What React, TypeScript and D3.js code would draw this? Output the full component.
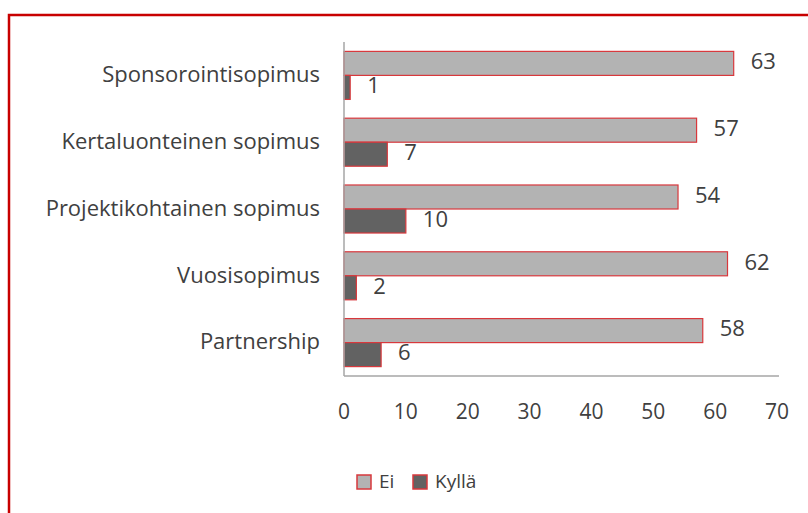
import * as d3 from 'd3'

// Categories top to bottom
const categories = [
  'Sponsorointisopimus',
  'Kertaluonteinen sopimus',
  'Projektikohtainen sopimus',
  'Vuosisopimus',
  'Partnership',
]
const series = ['Ei', 'Kyllä']
const eiValues = [63, 57, 54, 62, 58]
const kyllaValues = [1, 7, 10, 2, 6]
const xTicks = [0, 10, 20, 30, 40, 50, 60, 70]

const WIDTH = 808
const HEIGHT = 513
const FONT = "'Open Sans', 'Liberation Sans', sans-serif"
const TEXT = '#404040'
const FILLS: Record<string, string> = { Ei: '#b3b3b3', 'Kyllä': '#626262' }
const BAR_STROKE = '#d8383c'

function App() {
  const x = d3.scaleLinear().domain([0, 70]).range([344, 777])
  const y = d3.scaleBand<string>()
    .domain(categories)
    .range([42, 376])
    .paddingInner(0.281)
    .paddingOuter(0.1405)
  const inner = d3.scaleBand<string>()
    .domain(series)
    .range([0, y.bandwidth()])

  const rows = categories.map((c, i) => ({
    category: c,
    values: [
      { key: 'Ei', value: eiValues[i] },
      { key: 'Kyllä', value: kyllaValues[i] },
    ],
  }))

  const step = y.step()
  const baseY = 376

  return (
    <svg
      width={WIDTH}
      height={HEIGHT}
      style={{ position: 'absolute', left: 0, top: 0, background: '#fff' }}
      fontFamily={FONT}
    >
      {/* outer frame, only left and top edges visible */}
      <path d={`M9,${HEIGHT} V15 H${WIDTH}`} fill="none" stroke="#c80000" strokeWidth={2.5} />

      {rows.map(r => (
        <g key={r.category}>
          <text
            x={320}
            y={(y(r.category) ?? 0) + y.bandwidth() / 2 + 1}
            textAnchor="end"
            dominantBaseline="middle"
            fontSize={22}
            fill={TEXT}
          >
            {r.category}
          </text>
          {r.values.map(v => {
            const by = (y(r.category) ?? 0) + (inner(v.key) ?? 0)
            const bh = inner.bandwidth()
            return (
              <g key={v.key}>
                <rect
                  x={x(0)}
                  y={by}
                  width={x(v.value) - x(0)}
                  height={bh}
                  fill={FILLS[v.key]}
                  stroke={BAR_STROKE}
                  strokeWidth={1.2}
                />
                <text
                  x={x(v.value) + 17}
                  y={by + bh / 2}
                  dominantBaseline="middle"
                  fontSize={22}
                  fill={TEXT}
                >
                  {v.value}
                </text>
              </g>
            )
          })}
        </g>
      ))}

      {/* axes */}
      <line x1={x(0)} x2={x(0)} y1={baseY - categories.length * step} y2={baseY} stroke="#a6a6a6" strokeWidth={1.5} />
      <line x1={x(0)} x2={779} y1={baseY} y2={baseY} stroke="#a6a6a6" strokeWidth={1.5} />
      {xTicks.map(t => (
        <text key={t} x={x(t)} y={413} textAnchor="middle" dominantBaseline="middle" fontSize={21} fill={TEXT}>
          {t}
        </text>
      ))}

      {/* legend */}
      {series.map((s, i) => {
        const lx = [357, 413][i]
        return (
          <g key={s}>
            <rect x={lx} y={475} width={14} height={14} fill={FILLS[s]} stroke={BAR_STROKE} strokeWidth={1.5} />
            <text x={lx + 22} y={483} dominantBaseline="middle" fontSize={19} fill={TEXT}>
              {s}
            </text>
          </g>
        )
      })}
    </svg>
  )
}

export default App
